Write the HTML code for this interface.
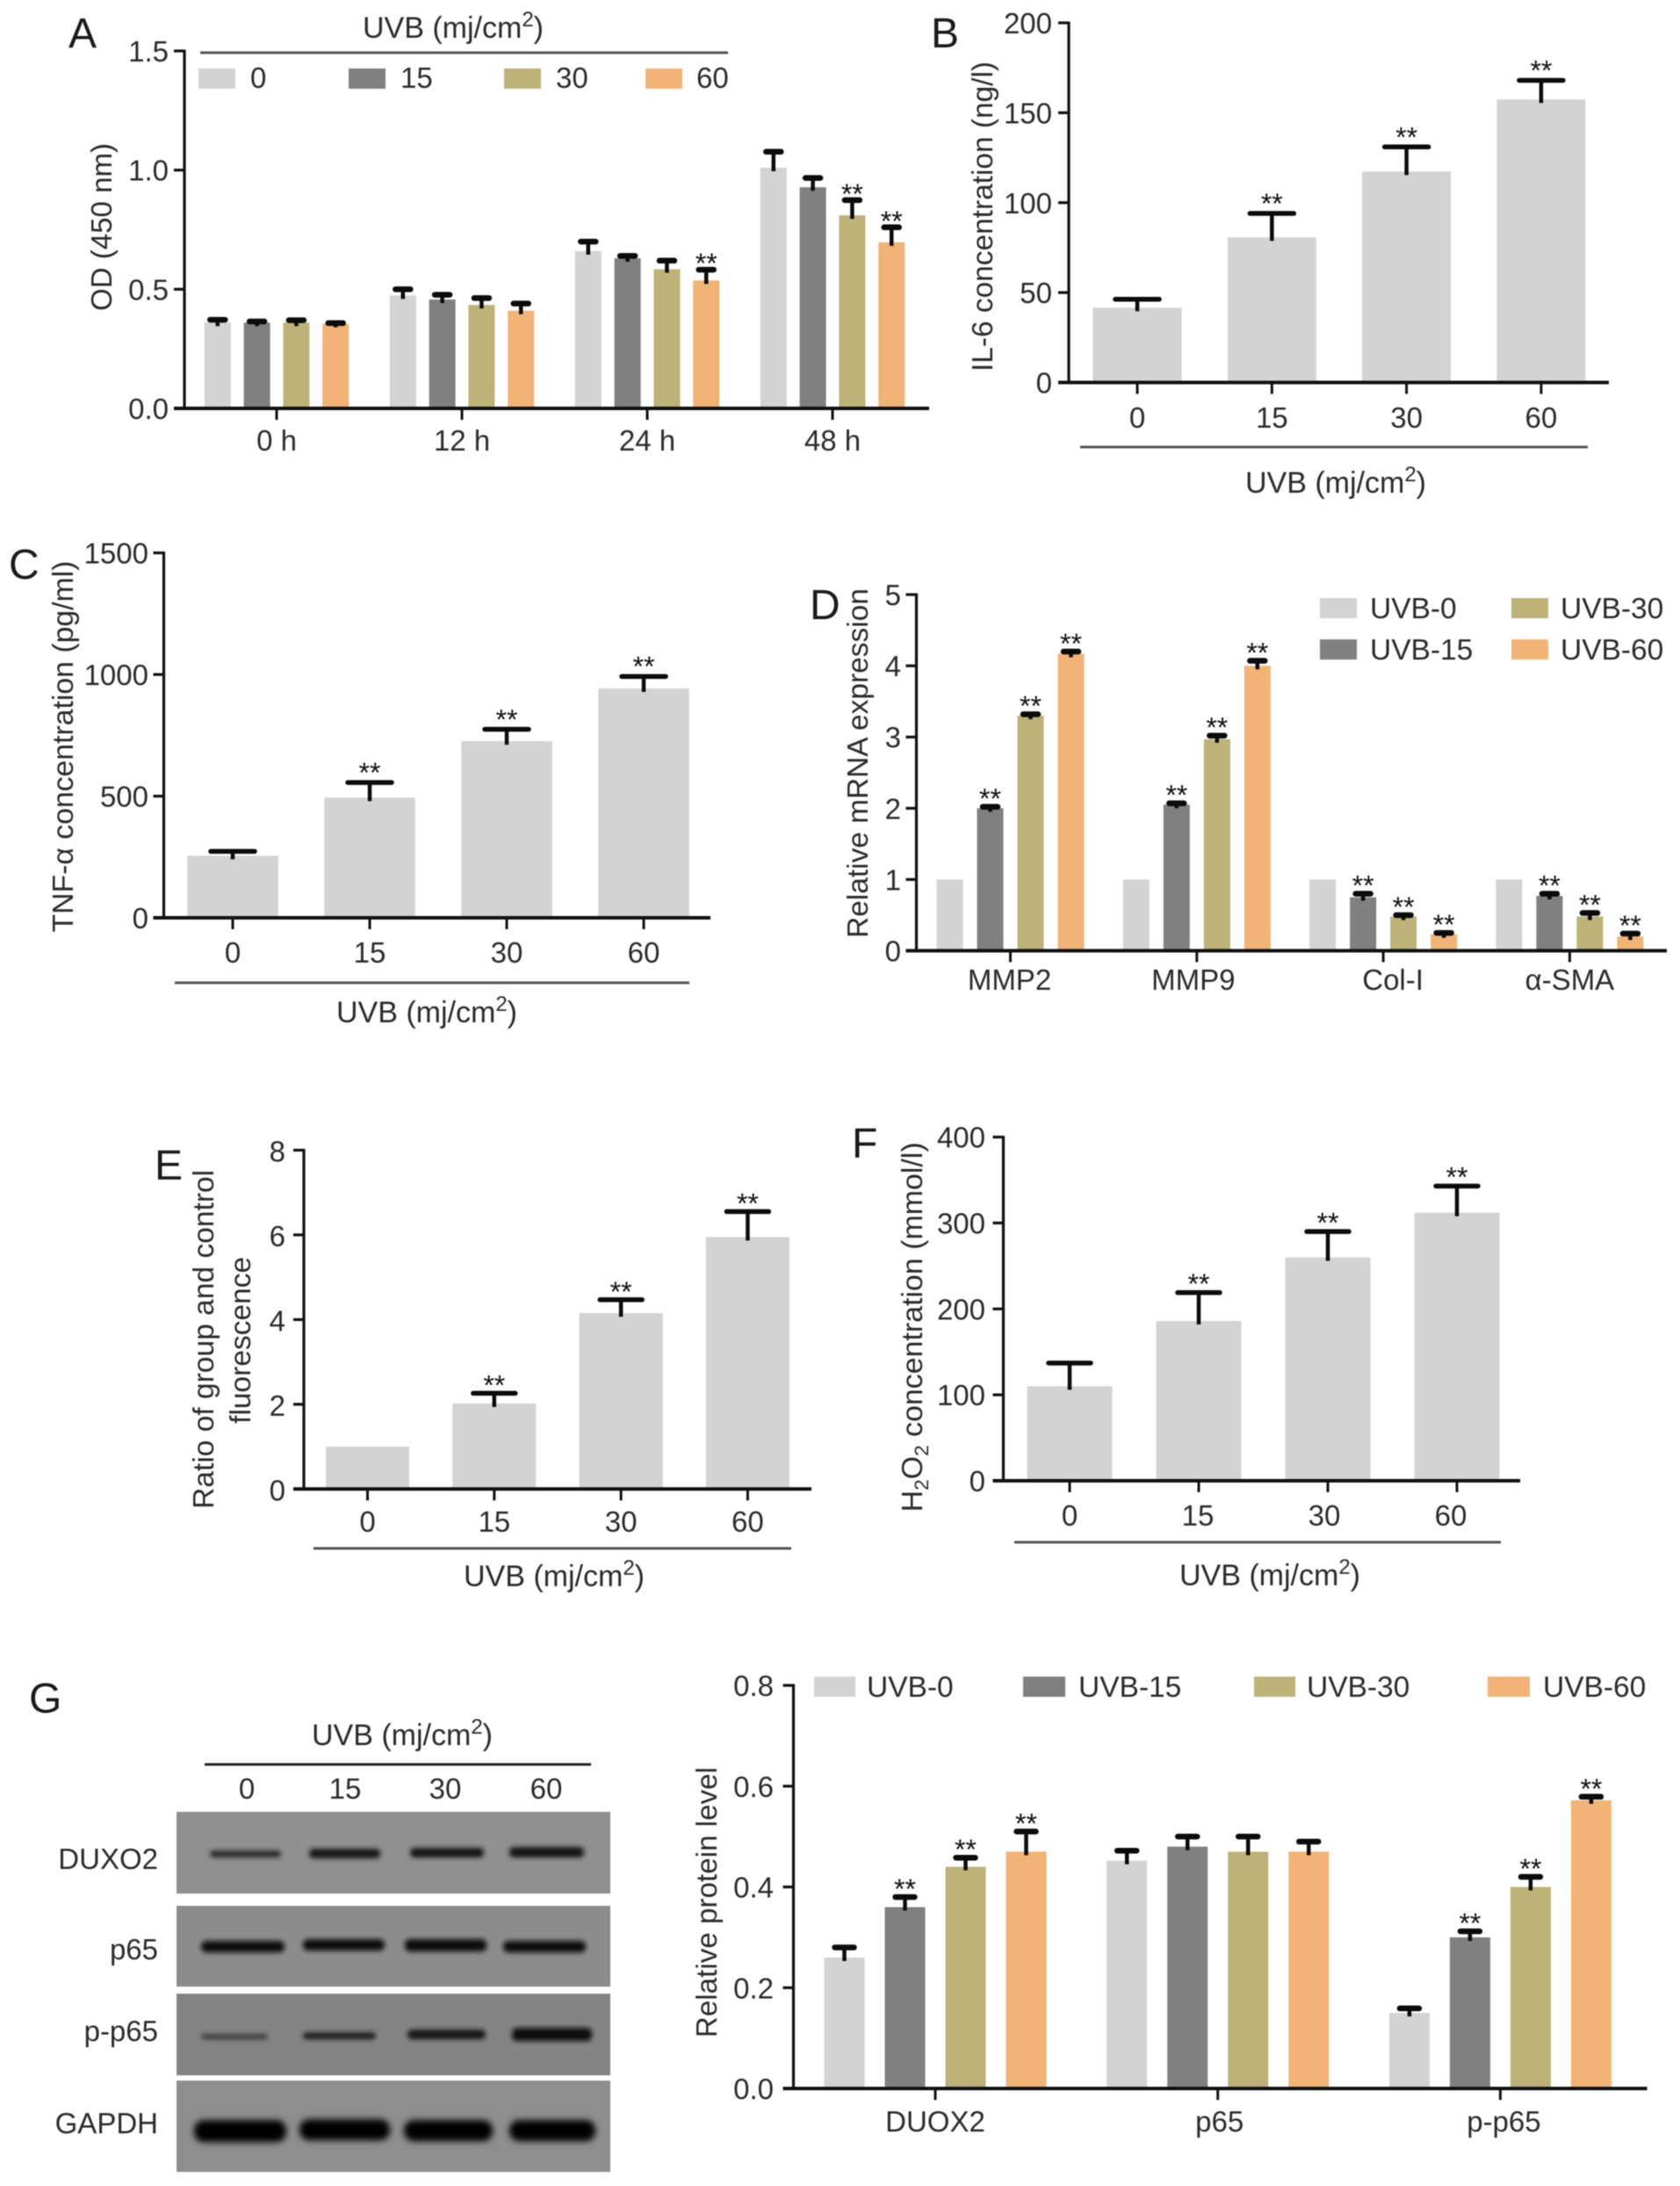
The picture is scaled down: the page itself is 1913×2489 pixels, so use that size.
<!DOCTYPE html>
<html lang="en">
<head>
<meta charset="utf-8">
<title>UVB dose panels</title>
<style>
html,body{margin:0;padding:0;background:#fff;}
svg{display:block;filter:blur(0.6px);}
text{font-family:"Liberation Sans",Arial,sans-serif;fill:#2b2b2b;font-size:33px;}
.letter{font-size:48px;fill:#1a1a1a;}
.rule{stroke:#555;stroke-width:3;}
.lg{font-size:33.5px;}
.ut{font-size:34px;}
.sup{font-size:24px;}
</style>
</head>
<body>
<svg id="figure" xmlns="http://www.w3.org/2000/svg" width="1913" height="2489" viewBox="0 0 1913 2489">
<defs>
<filter id="bandBlur" x="-20%" y="-100%" width="140%" height="300%"><feGaussianBlur stdDeviation="2.6"/></filter>
<filter id="bandBlurSoft" x="-20%" y="-100%" width="140%" height="300%"><feGaussianBlur stdDeviation="3.6"/></filter>
</defs>
<rect width="1913" height="2489" fill="#fff"/>

<!-- Panel A -->
<g>
<text class="letter" x="78" y="54">A</text>
<text class="ut" x="516" y="43" text-anchor="middle">UVB (mj/cm<tspan class="sup" dy="-13">2</tspan><tspan dy="13">)</tspan></text>
<line class="rule" x1="228" y1="60" x2="829" y2="60"/>
<rect x="226" y="78" width="42" height="23" fill="#d3d3d3"/>
<text x="285" y="100">0</text>
<rect x="397" y="78" width="42" height="23" fill="#808080"/>
<text x="456" y="100">15</text>
<rect x="574" y="78" width="42" height="23" fill="#bdb378"/>
<text x="633" y="100">30</text>
<rect x="735" y="78" width="42" height="23" fill="#f2b476"/>
<text x="793" y="100">60</text>
<text transform="translate(127 258.5) rotate(-90)" text-anchor="middle" textLength="191" lengthAdjust="spacingAndGlyphs">OD (450 nm)</text>
<g id="chartA"></g>
</g>

<!-- Panel B -->
<g>
<text class="letter" x="1060" y="54">B</text>
<text transform="translate(1130 246.5) rotate(-90)" text-anchor="middle" textLength="353" lengthAdjust="spacingAndGlyphs">IL-6 concentration (ng/l)</text>
<line class="rule" x1="1230" y1="509" x2="1808" y2="509"/>
<text class="ut" x="1521" y="561" text-anchor="middle">UVB (mj/cm<tspan class="sup" dy="-13">2</tspan><tspan dy="13">)</tspan></text>
<g id="chartB"></g>
</g>

<!-- Panel C -->
<g>
<text class="letter" x="10" y="659">C</text>
<text transform="translate(83 850) rotate(-90)" text-anchor="middle" textLength="423" lengthAdjust="spacingAndGlyphs">TNF-α concentration (pg/ml)</text>
<line class="rule" x1="199" y1="1119" x2="785" y2="1119"/>
<text class="ut" x="486" y="1164" text-anchor="middle">UVB (mj/cm<tspan class="sup" dy="-13">2</tspan><tspan dy="13">)</tspan></text>
<g id="chartC"></g>
</g>

<!-- Panel D -->
<g>
<text class="letter" x="922" y="705">D</text>
<text transform="translate(988 869) rotate(-90)" text-anchor="middle" textLength="398" lengthAdjust="spacingAndGlyphs">Relative mRNA expression</text>
<rect x="1503" y="681" width="42" height="23" fill="#d3d3d3"/>
<text class="lg" x="1560" y="704">UVB-0</text>
<rect x="1503" y="728" width="42" height="23" fill="#808080"/>
<text class="lg" x="1560" y="751">UVB-15</text>
<rect x="1721" y="681" width="42" height="23" fill="#bdb378"/>
<text class="lg" x="1777" y="704">UVB-30</text>
<rect x="1721" y="728" width="42" height="23" fill="#f2b476"/>
<text class="lg" x="1777" y="751">UVB-60</text>
<g id="chartD"></g>
</g>

<!-- Panel E -->
<g>
<text class="letter" x="176" y="1343">E</text>
<text transform="translate(243 1525) rotate(-90)" text-anchor="middle" textLength="386" lengthAdjust="spacingAndGlyphs">Ratio of group and control</text>
<text transform="translate(285 1526) rotate(-90)" text-anchor="middle" textLength="190" lengthAdjust="spacingAndGlyphs">fluorescence</text>
<line class="rule" x1="357" y1="1763" x2="901" y2="1763"/>
<text class="ut" x="631" y="1806" text-anchor="middle">UVB (mj/cm<tspan class="sup" dy="-13">2</tspan><tspan dy="13">)</tspan></text>
<g id="chartE"></g>
</g>

<!-- Panel F -->
<g>
<text class="letter" x="970" y="1318">F</text>
<text transform="translate(1050 1511) rotate(-90)" text-anchor="middle" textLength="421" lengthAdjust="spacingAndGlyphs">H<tspan dy="7" font-size="22">2</tspan><tspan dy="-7">O</tspan><tspan dy="7" font-size="22">2</tspan><tspan dy="-7"> concentration (mmol/l)</tspan></text>
<line class="rule" x1="1155" y1="1756" x2="1709" y2="1756"/>
<text class="ut" x="1446" y="1805" text-anchor="middle">UVB (mj/cm<tspan class="sup" dy="-13">2</tspan><tspan dy="13">)</tspan></text>
<g id="chartF"></g>
</g>

<!-- Panel G blot -->
<g>
<text class="letter" x="33" y="1950">G</text>
<text class="ut" x="458" y="1987" text-anchor="middle">UVB (mj/cm<tspan class="sup" dy="-13">2</tspan><tspan dy="13">)</tspan></text>
<line x1="233" y1="2009" x2="673" y2="2009" stroke="#222" stroke-width="3"/>
<text x="281" y="2048" text-anchor="middle">0</text>
<text x="393" y="2048" text-anchor="middle">15</text>
<text x="507" y="2048" text-anchor="middle">30</text>
<text x="622" y="2048" text-anchor="middle">60</text>
<text x="180" y="2128" text-anchor="end">DUXO2</text>
<text x="180" y="2231" text-anchor="end">p65</text>
<text x="180" y="2324" text-anchor="end">p-p65</text>
<text x="180" y="2429" text-anchor="end">GAPDH</text>

<rect x="201" y="2063" width="494" height="93" fill="#909090"/>
<rect x="201" y="2170" width="494" height="92" fill="#8c8c8c"/>
<rect x="201" y="2270" width="494" height="93" fill="#848484"/>
<rect x="201" y="2369" width="494" height="104" fill="#8e8e8e"/>

<g filter="url(#bandBlur)">
<rect x="239" y="2107" width="81" height="8" rx="4" fill="#2a2a2a"/>
<rect x="352" y="2105" width="81" height="11" rx="5" fill="#161616"/>
<rect x="467" y="2104" width="84" height="11" rx="5" fill="#161616"/>
<rect x="580" y="2103" width="85" height="12" rx="5" fill="#121212"/>
</g>
<g filter="url(#bandBlur)">
<rect x="229" y="2210" width="95" height="13" rx="6" fill="#0c0c0c"/>
<rect x="345" y="2208" width="93" height="13" rx="6" fill="#0c0c0c"/>
<rect x="461" y="2208" width="93" height="14" rx="6" fill="#0c0c0c"/>
<rect x="573" y="2210" width="94" height="13" rx="6" fill="#0c0c0c"/>
</g>
<g filter="url(#bandBlur)">
<rect x="229" y="2316" width="76" height="6" rx="3" fill="#3a3a3a"/>
<rect x="345" y="2314" width="83" height="8" rx="4" fill="#1c1c1c"/>
<rect x="464" y="2311" width="89" height="11" rx="5" fill="#121212"/>
<rect x="583" y="2309" width="91" height="15" rx="6" fill="#0c0c0c"/>
</g>
<g filter="url(#bandBlurSoft)">
<rect x="221" y="2414" width="105" height="25" rx="11" fill="#050505"/>
<rect x="341" y="2413" width="103" height="24" rx="11" fill="#050505"/>
<rect x="460" y="2414" width="101" height="24" rx="11" fill="#050505"/>
<rect x="580" y="2414" width="98" height="24" rx="11" fill="#050505"/>
</g>
</g>

<!-- Panel G bars -->
<g>
<text transform="translate(816 2166) rotate(-90)" text-anchor="middle" textLength="308" lengthAdjust="spacingAndGlyphs">Relative protein level</text>
<rect x="927" y="1909" width="47" height="23" fill="#d3d3d3"/>
<text class="lg" x="987" y="1932">UVB-0</text>
<rect x="1165" y="1909" width="48" height="23" fill="#808080"/>
<text class="lg" x="1228" y="1932">UVB-15</text>
<rect x="1428" y="1909" width="47" height="23" fill="#bdb378"/>
<text class="lg" x="1488" y="1932">UVB-30</text>
<rect x="1694" y="1909" width="48" height="23" fill="#f2b476"/>
<text class="lg" x="1757" y="1932">UVB-60</text>
<g id="chartG"></g>
</g>
</svg>

<script>
// ---- Panel A data ----
const panelACategories = ['0 h', '12 h', '24 h', '48 h'];
const panelATicks = [0, 0.5, 1, 1.5];
const panelATickLabels = ['0.0', '0.5', '1.0', '1.5'];
const panelAUvb0 = [0.36, 0.474, 0.66, 1.01];
const panelAUvb15 = [0.36, 0.457, 0.63, 0.928];
const panelAUvb30 = [0.36, 0.434, 0.584, 0.81];
const panelAUvb60 = [0.355, 0.41, 0.537, 0.697];
const panelAErr0 = [0.012, 0.026, 0.04, 0.067];
const panelAErr15 = [0.005, 0.02, 0.01, 0.039];
const panelAErr30 = [0.01, 0.029, 0.036, 0.064];
const panelAErr60 = [0.003, 0.03, 0.045, 0.063];
const panelASig0 = [0, 0, 0, 0];
const panelASig15 = [0, 0, 0, 0];
const panelASig30 = [0, 0, 0, 1];
const panelASig60 = [0, 0, 1, 1];

// ---- Panel B data ----
const doseLabels = ['0', '15', '30', '60'];
const panelBTicks = [0, 50, 100, 150, 200];
const panelBValues = [41.6, 80.7, 117.3, 157.4];
const panelBErr = [4.7, 13.3, 13.7, 10.6];
const panelBSig = [0, 1, 1, 1];

// ---- Panel C data ----
const panelCTicks = [0, 500, 1000, 1500];
const panelCValues = [255, 494, 726, 943];
const panelCErr = [18, 62, 49, 49];
const panelCSig = [0, 1, 1, 1];

// ---- Panel D data ----
const panelDCategories = ['MMP2', 'MMP9', 'Col-I', 'α-SMA'];
const panelDTicks = [0, 1, 2, 3, 4, 5];
const panelDUvb0 = [1, 1, 1, 1];
const panelDUvb15 = [2.0, 2.05, 0.75, 0.77];
const panelDUvb30 = [3.3, 2.97, 0.48, 0.48];
const panelDUvb60 = [4.17, 4.0, 0.23, 0.2];
const panelDErr0 = [0, 0, 0, 0];
const panelDErr15 = [0.02, 0.02, 0.05, 0.03];
const panelDErr30 = [0.02, 0.05, 0.02, 0.05];
const panelDErr60 = [0.03, 0.07, 0.02, 0.04];
const panelDSig0 = [0, 0, 0, 0];
const panelDSig15 = [1, 1, 1, 1];
const panelDSig30 = [1, 1, 1, 1];
const panelDSig60 = [1, 1, 1, 1];

// ---- Panel E data ----
const panelETicks = [0, 2, 4, 6, 8];
const panelEValues = [1, 2.02, 4.15, 5.95];
const panelEErr = [0, 0.24, 0.32, 0.6];
const panelESig = [0, 1, 1, 1];

// ---- Panel F data ----
const panelFTicks = [0, 100, 200, 300, 400];
const panelFValues = [110, 186, 260, 312];
const panelFErr = [27, 33, 30, 31];
const panelFSig = [0, 1, 1, 1];

// ---- Panel G data ----
const panelGCategories = ['DUOX2', 'p65', 'p-p65'];
const panelGTicks = [0, 0.2, 0.4, 0.6, 0.8];
const panelGTickLabels = ['0.0', '0.2', '0.4', '0.6', '0.8'];
const panelGUvb0 = [0.26, 0.452, 0.15];
const panelGUvb15 = [0.36, 0.48, 0.30];
const panelGUvb30 = [0.44, 0.47, 0.40];
const panelGUvb60 = [0.47, 0.47, 0.572];
const panelGErr0 = [0.02, 0.02, 0.009];
const panelGErr15 = [0.02, 0.02, 0.012];
const panelGErr30 = [0.018, 0.03, 0.02];
const panelGErr60 = [0.04, 0.02, 0.007];
const panelGSig0 = [0, 0, 0];
const panelGSig15 = [1, 0, 1];
const panelGSig30 = [1, 0, 1];
const panelGSig60 = [1, 0, 1];

const LIGHT = '#d3d3d3', GRAY = '#808080', OLIVE = '#bdb378', ORANGE = '#f2b476';
const NS = 'http://www.w3.org/2000/svg';

function make(parent, tag, attrs, txt) {
  const el = document.createElementNS(NS, tag);
  for (const k in attrs) el.setAttribute(k, attrs[k]);
  if (txt !== undefined) el.textContent = txt;
  parent.appendChild(el);
  return el;
}

function drawChart(o) {
  const g = document.getElementById(o.id);
  const vMax = o.ticks[o.ticks.length - 1];
  const yScale = v => o.y0 - (v / vMax) * (o.y0 - o.yTop);
  const groupX = i => o.x0 + i * o.groupStep;
  const n = o.series.length;
  const barX = (i, j) => groupX(i) + (j - (n - 1) / 2) * o.barStep;

  o.series.forEach((s, j) => {
    s.values.forEach((v, i) => {
      const cx = barX(i, j);
      const bar = make(g, 'rect', {x: cx - o.barW / 2, y: yScale(v), width: o.barW, height: o.y0 - yScale(v), fill: s.color});
      
      
    });
  });

  o.series.forEach((s, j) => {
    s.values.forEach((v, i) => {
      const cx = barX(i, j);
      const e = s.err[i];
      const capY = yScale(v + e);
      if (e > 0) {
        const stem = make(g, 'line', {x1: cx, x2: cx, y1: capY, y2: yScale(v) + 4, stroke: '#0b0b0b', 'stroke-width': o.stemW});
        
        
        const cap = make(g, 'line', {x1: cx - o.capW / 2, x2: cx + o.capW / 2, y1: capY, y2: capY, stroke: '#0b0b0b', 'stroke-width': o.capT, 'stroke-linecap': 'round'});
        
        
      }
      if (s.sig[i]) {
        const star = make(g, 'text', {x: cx, y: capY - o.starGap + 18, 'text-anchor': 'middle', style: 'font-size:32px;fill:#111'}, '**');
        
        
      }
    });
  });

  const yAxis = make(g, 'line', {x1: o.axisX, x2: o.axisX, y1: o.yTop - 1.5, y2: o.y0, stroke: '#111', 'stroke-width': 3.2});
  
  
  const xAxis = make(g, 'line', {x1: o.axisX - 12, x2: o.axisRight, y1: o.y0, y2: o.y0, stroke: '#111', 'stroke-width': 4});
  
  

  o.ticks.forEach((t, i) => {
    const y = yScale(t);
    const tick = make(g, 'line', {x1: o.axisX - 12, x2: o.axisX, y1: y, y2: y, stroke: '#111', 'stroke-width': 3.2});
    
    
    const lab = make(g, 'text', {x: o.labelRight, y: y + 12 + (o.labelDrop || 0), 'text-anchor': 'end'}, o.tickLabels ? o.tickLabels[i] : String(t));
    
    
  });

  o.categories.forEach((c, i) => {
    const x = groupX(i);
    const tick = make(g, 'line', {x1: x, x2: x, y1: o.y0, y2: o.y0 + 13, stroke: '#111', 'stroke-width': 3});
    
    
    const lab = make(g, 'text', {x: x + (o.nudge ? o.nudge[i] : 0), y: o.catBaseline, 'text-anchor': 'middle'}, c);
    
    
  });
}

drawChart({id: 'chartA', categories: panelACategories, ticks: panelATicks, tickLabels: panelATickLabels,
  series: [
    {values: panelAUvb0, err: panelAErr0, sig: panelASig0, color: LIGHT},
    {values: panelAUvb15, err: panelAErr15, sig: panelASig15, color: GRAY},
    {values: panelAUvb30, err: panelAErr30, sig: panelASig30, color: OLIVE},
    {values: panelAUvb60, err: panelAErr60, sig: panelASig60, color: ORANGE}],
  axisX: 210, axisRight: 1058, y0: 465, yTop: 58, x0: 315, groupStep: 211, barStep: 44.8, barW: 30,
  capW: 17, capT: 6.5, stemW: 4.5, starGap: 14, labelRight: 192, catBaseline: 513});

drawChart({id: 'chartB', categories: doseLabels, ticks: panelBTicks,
  series: [{values: panelBValues, err: panelBErr, sig: panelBSig, color: LIGHT}],
  axisX: 1217, axisRight: 1832, y0: 435.5, yTop: 26, x0: 1295, groupStep: 153.3, barStep: 0, barW: 101,
  capW: 50, capT: 5.5, stemW: 4.5, starGap: 18, labelRight: 1198, catBaseline: 487});

drawChart({id: 'chartC', categories: doseLabels, ticks: panelCTicks,
  series: [{values: panelCValues, err: panelCErr, sig: panelCSig, color: LIGHT}],
  axisX: 186.5, axisRight: 809, y0: 1045, yTop: 629.5, x0: 265, groupStep: 156, barStep: 0, barW: 103.5,
  capW: 50, capT: 5.5, stemW: 4.5, starGap: 18, labelRight: 169, catBaseline: 1096});

drawChart({id: 'chartD', categories: panelDCategories, ticks: panelDTicks,
  series: [
    {values: panelDUvb0, err: panelDErr0, sig: panelDSig0, color: LIGHT},
    {values: panelDUvb15, err: panelDErr15, sig: panelDSig15, color: GRAY},
    {values: panelDUvb30, err: panelDErr30, sig: panelDSig30, color: OLIVE},
    {values: panelDUvb60, err: panelDErr60, sig: panelDSig60, color: ORANGE}],
  axisX: 1043.5, axisRight: 1898, y0: 1082.5, yTop: 677, x0: 1150.5, groupStep: 212.3, barStep: 46, barW: 30,
  capW: 17, capT: 6.5, stemW: 4.5, starGap: 16, labelRight: 1026, catBaseline: 1127, nudge: [-1, -4, 11, 0]});

drawChart({id: 'chartE', categories: doseLabels, ticks: panelETicks,
  series: [{values: panelEValues, err: panelEErr, sig: panelESig, color: LIGHT}],
  axisX: 346, axisRight: 924, y0: 1695.4, yTop: 1309.6, x0: 418.5, groupStep: 144.3, barStep: 0, barW: 95,
  capW: 48, capT: 5.5, stemW: 4.5, starGap: 16, labelRight: 325, catBaseline: 1744, labelDrop: 1});

drawChart({id: 'chartF', categories: doseLabels, ticks: panelFTicks,
  series: [{values: panelFValues, err: panelFErr, sig: panelFSig, color: LIGHT}],
  axisX: 1142.5, axisRight: 1731, y0: 1686, yTop: 1294.7, x0: 1218, groupStep: 147, barStep: 0, barW: 97,
  capW: 48, capT: 5.5, stemW: 4.5, starGap: 17, labelRight: 1122, catBaseline: 1737, nudge: [0, -1, -4, -7]});

drawChart({id: 'chartG', categories: panelGCategories, ticks: panelGTicks, tickLabels: panelGTickLabels,
  series: [
    {values: panelGUvb0, err: panelGErr0, sig: panelGSig0, color: LIGHT},
    {values: panelGUvb15, err: panelGErr15, sig: panelGSig15, color: GRAY},
    {values: panelGUvb30, err: panelGErr30, sig: panelGSig30, color: OLIVE},
    {values: panelGUvb60, err: panelGErr60, sig: panelGSig60, color: ORANGE}],
  axisX: 903.5, axisRight: 1875.5, y0: 2378, yTop: 1919, x0: 1065, groupStep: 321.7, barStep: 69, barW: 46,
  capW: 22, capT: 6.5, stemW: 4.5, starGap: 16, labelRight: 881, catBaseline: 2427, nudge: [0, 2, 4]});
</script>
</body>
</html>
